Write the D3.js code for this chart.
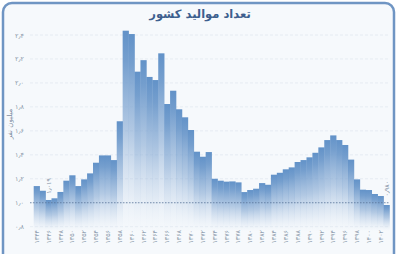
<!DOCTYPE html>
<html>
  <head>
    <meta charset="utf-8">
    <style>
      body { margin: 0; background: #ffffff; }
      text { font-family: "DejaVu Sans", sans-serif; }
    </style>
  </head>
  <body>
    <script src="https://cdn.jsdelivr.net/npm/d3@7"></script>
    <script>
      // births per year (millions), 1344 .. 1403
      var years = d3.range(1344, 1404);
      var births = [1.139, 1.100, 1.023, 1.037, 1.090, 1.184, 1.229, 1.139, 1.195, 1.245,
                    1.334, 1.395, 1.395, 1.356, 1.680, 2.436, 2.408, 2.094, 2.190, 2.050,
                    2.024, 2.247, 1.824, 1.935, 1.780, 1.713, 1.607, 1.426, 1.384, 1.423,
                    1.200, 1.184, 1.176, 1.178, 1.170, 1.089, 1.106, 1.117, 1.164, 1.150,
                    1.234, 1.250, 1.279, 1.295, 1.340, 1.356, 1.379, 1.417, 1.462, 1.523,
                    1.562, 1.523, 1.482, 1.360, 1.195, 1.109, 1.106, 1.073, 1.056, 0.981];
      var yTicks = [0.8, 1.0, 1.2, 1.4, 1.6, 1.8, 2.0, 2.2, 2.4];
      var notes = [{ year: 1346, label: "۱٫۰۱۹" }, { year: 1403, label: "۰٫۹۸۰" }];

      var W = 400, H = 254;
      var faDigits = "۰۱۲۳۴۵۶۷۸۹";
      function fa(s) {
        return String(s).replace(/[0-9]/g, function (d) { return faDigits[+d]; })
                        .replace(".", "٫");
      }

      var svg = d3.select("body").append("svg")
        .attr("width", W).attr("height", H);

      var defs = svg.append("defs");
      var grad = defs.append("linearGradient")
        .attr("id", "barFade")
        .attr("x1", 0).attr("y1", 0).attr("x2", 0).attr("y2", 1);
      grad.append("stop").attr("offset", 0).attr("stop-color", "#6292c8").attr("stop-opacity", 1);
      grad.append("stop").attr("offset", 0.15).attr("stop-color", "#6a97ca").attr("stop-opacity", 0.92);
      grad.append("stop").attr("offset", 0.5).attr("stop-color", "#85a9d3").attr("stop-opacity", 0.6);
      grad.append("stop").attr("offset", 0.8).attr("stop-color", "#a9c2e0").attr("stop-opacity", 0.25);
      grad.append("stop").attr("offset", 1).attr("stop-color", "#d3e0ef").attr("stop-opacity", 0.03);

      // card
      svg.append("rect")
        .attr("x", 3).attr("y", 3)
        .attr("width", 391).attr("height", 262)
        .attr("rx", 9)
        .attr("fill", "#f6f9fc")
        .attr("stroke", "#6f95c3")
        .attr("stroke-width", 2.5);

      svg.append("text")
        .attr("x", 200).attr("y", 18)
        .attr("text-anchor", "middle")
        .attr("fill", "#3d5f8e")
        .style("font-size", "11.5px")
        .style("font-weight", "bold")
        .text("تعداد موالید کشور");

      var x = d3.scaleBand().domain(years).range([33.7, 389.5]).padding(0);
      var y = d3.scaleLinear().domain([0.8, 2.4]).range([226.7, 35]);

      // gridlines
      svg.append("g").selectAll("line")
        .data(yTicks)
        .enter().append("line")
        .attr("x1", 30).attr("x2", 390)
        .attr("y1", function (d) { return y(d); })
        .attr("y2", function (d) { return y(d); })
        .attr("stroke", "#e2e8f0")
        .attr("stroke-width", 0.8)
        .attr("stroke-dasharray", "3,2");

      // y tick labels
      svg.append("g").selectAll("text")
        .data(yTicks)
        .enter().append("text")
        .attr("x", 24)
        .attr("y", function (d) { return y(d) + 2.5; })
        .attr("text-anchor", "end")
        .attr("fill", "#8c9aab")
        .style("font-size", "6.5px")
        .text(function (d) { return fa(d.toFixed(1)); });

      svg.append("text")
        .attr("transform", "translate(12,124) rotate(-90)")
        .attr("text-anchor", "middle")
        .attr("fill", "#7f8fa3")
        .style("font-size", "7px")
        .text("میلیون نفر");

      // bars
      svg.append("g").selectAll("rect")
        .data(years)
        .enter().append("rect")
        .attr("x", function (d) { return x(d); })
        .attr("width", x.bandwidth() + 0.3)
        .attr("y", function (d, i) { return y(births[i]); })
        .attr("height", function (d, i) { return y(0.8) + 4 - y(births[i]); })
        .attr("fill", "url(#barFade)");

      // reference line at 1.0 million
      svg.append("line")
        .attr("x1", 30).attr("x2", 390)
        .attr("y1", y(1.0)).attr("y2", y(1.0))
        .attr("stroke", "#5a7599")
        .attr("stroke-width", 0.8)
        .attr("stroke-dasharray", "1.5,1.5");

      // x tick labels, every second year
      svg.append("g").selectAll("text")
        .data(years.filter(function (d, i) { return i % 2 === 0; }))
        .enter().append("text")
        .attr("transform", function (d) {
          return "translate(" + (x(d) + x.bandwidth() / 2 + 2.2) + ",230) rotate(-90)";
        })
        .attr("text-anchor", "end")
        .attr("fill", "#8c9aab")
        .style("font-size", "6.3px")
        .text(function (d) { return fa(d); });

      // value notes
      svg.append("g").selectAll("text")
        .data(notes)
        .enter().append("text")
        .attr("transform", function (d) {
          var i = years.indexOf(d.year);
          return "translate(" + (x(d.year) + x.bandwidth() / 2 + 2.2) + "," +
                 (Math.min(y(births[i]), y(1.0)) - 14) + ") rotate(-90)";
        })
        .attr("text-anchor", "middle")
        .attr("fill", "#7f8fa3")
        .style("font-size", "6.3px")
        .text(function (d) { return d.label; });
    </script>
  </body>
</html>
